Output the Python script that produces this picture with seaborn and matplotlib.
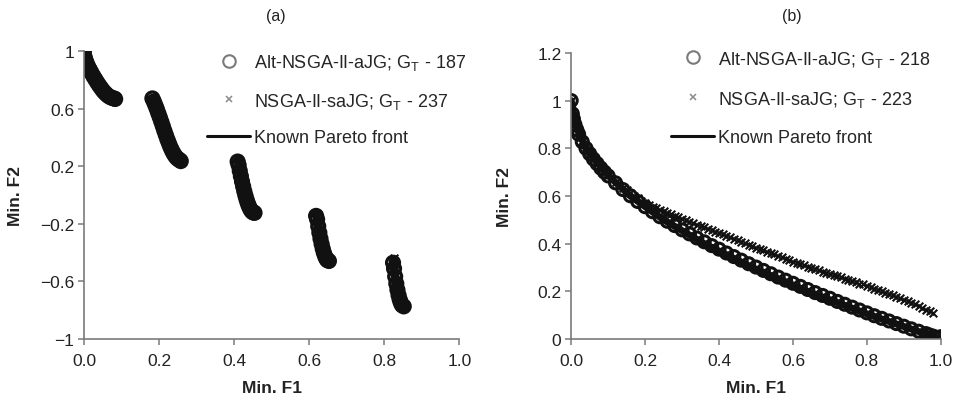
import numpy as np
import pandas as pd
import seaborn as sns
import matplotlib.pyplot as plt
from matplotlib.lines import Line2D

# (a) Alt-NSGA-II-aJG, five disconnected front pieces
alt_a_f1 = [0.0, 0.002, 0.005, 0.008, 0.012, 0.016, 0.02, 0.025, 0.03, 0.035, 0.04, 0.045, 0.05, 0.055, 0.06, 0.065, 0.07, 0.075, 0.08, 0.083,
            0.1822, 0.186, 0.19, 0.194, 0.198, 0.202, 0.206, 0.21, 0.214, 0.218, 0.222, 0.226, 0.23, 0.234, 0.238, 0.242, 0.246, 0.25, 0.254, 0.2578,
            0.4093, 0.412, 0.415, 0.418, 0.421, 0.424, 0.427, 0.43, 0.433, 0.436, 0.439, 0.442, 0.445, 0.448, 0.451, 0.4543,
            0.6183, 0.621, 0.624, 0.627, 0.63, 0.633, 0.636, 0.639, 0.642, 0.645, 0.648, 0.6525,
            0.8233, 0.826, 0.829, 0.832, 0.835, 0.838, 0.841, 0.844, 0.847, 0.8518]
alt_a_f2 = [1.0, 0.955, 0.929, 0.909, 0.886, 0.866, 0.847, 0.824, 0.803, 0.782, 0.762, 0.744, 0.726, 0.711, 0.698, 0.687, 0.679, 0.673, 0.670, 0.666,
            0.670, 0.648, 0.623, 0.596, 0.567, 0.538, 0.508, 0.477, 0.446, 0.416, 0.387, 0.360, 0.334, 0.311, 0.291, 0.274, 0.260, 0.250, 0.244, 0.235,
            0.232, 0.207, 0.167, 0.130, 0.093, 0.059, 0.026, -0.004, -0.031, -0.055, -0.076, -0.093, -0.107, -0.116, -0.122, -0.124,
            -0.145, -0.169, -0.217, -0.262, -0.303, -0.340, -0.373, -0.401, -0.423, -0.440, -0.452, -0.458,
            -0.470, -0.511, -0.566, -0.615, -0.658, -0.695, -0.725, -0.748, -0.764, -0.773]

# (a) NSGA-II-saJG
nsga_a_f1 = [0.0, 0.006, 0.015, 0.028, 0.042, 0.058, 0.072, 0.082,
             0.184, 0.196, 0.208, 0.22, 0.232, 0.244, 0.256,
             0.41, 0.42, 0.43, 0.44, 0.452,
             0.619, 0.628, 0.637, 0.646, 0.652,
             0.826, 0.824, 0.833, 0.842, 0.851]
nsga_a_f2 = [0.99, 0.920, 0.871, 0.811, 0.754, 0.702, 0.678, 0.668,
             0.658, 0.583, 0.492, 0.400, 0.322, 0.267, 0.240,
             0.226, 0.106, -0.005, -0.083, -0.123,
             -0.150, -0.276, -0.380, -0.444, -0.457,
             -0.440, -0.480, -0.628, -0.733, -0.772]

# (a) known Pareto front pieces
front_a_seg = [1] * 5 + [2] * 5 + [3] * 5 + [4] * 5 + [5] * 5
front_a_f1 = [0.0, 0.02, 0.04, 0.06, 0.083,
              0.1822, 0.2, 0.22, 0.24, 0.2578,
              0.4093, 0.42, 0.43, 0.44, 0.4543,
              0.6183, 0.625, 0.63, 0.64, 0.6525,
              0.8233, 0.83, 0.84, 0.845, 0.8518]
front_a_f2 = [1.0, 0.847, 0.762, 0.698, 0.670,
              0.670, 0.553, 0.402, 0.282, 0.242,
              0.242, 0.105, -0.004, -0.082, -0.124,
              -0.123, -0.233, -0.303, -0.409, -0.458,
              -0.458, -0.583, -0.715, -0.753, -0.773]

# (b) Alt-NSGA-II-aJG
alt_b_f1 = [0.0, 0.003, 0.006, 0.01, 0.015, 0.02, 0.03, 0.04, 0.05, 0.06, 0.07, 0.08, 0.09, 0.10,
            0.12, 0.14, 0.16, 0.18, 0.20, 0.22, 0.24, 0.26, 0.28, 0.30, 0.32, 0.34, 0.36, 0.38, 0.40,
            0.42, 0.44, 0.46, 0.48, 0.50, 0.52, 0.54, 0.56, 0.58, 0.60, 0.62, 0.64, 0.66, 0.68, 0.70,
            0.72, 0.74, 0.76, 0.78, 0.80, 0.82, 0.84, 0.86, 0.88, 0.90, 0.92, 0.94, 0.96, 0.97, 0.98, 0.99, 1.0]
alt_b_f2 = [1.0, 0.945, 0.923, 0.900, 0.878, 0.859, 0.827, 0.800, 0.777, 0.755, 0.736, 0.717, 0.700, 0.684,
            0.655, 0.627, 0.601, 0.577, 0.555, 0.534, 0.513, 0.494, 0.476, 0.458, 0.441, 0.424, 0.408, 0.392, 0.377,
            0.361, 0.346, 0.331, 0.316, 0.302, 0.288, 0.274, 0.260, 0.247, 0.234, 0.221, 0.208, 0.195, 0.183, 0.171,
            0.158, 0.146, 0.134, 0.122, 0.110, 0.098, 0.087, 0.076, 0.065, 0.054, 0.043, 0.033, 0.023, 0.017, 0.012, 0.007, 0.010]

# (b) NSGA-II-saJG
nsga_b_f1 = [0.0, 0.005, 0.01, 0.02, 0.03, 0.04, 0.05, 0.06, 0.07, 0.08, 0.09, 0.10, 0.11, 0.12, 0.13, 0.14, 0.15,
             0.16, 0.17, 0.18, 0.19, 0.20, 0.21, 0.22, 0.23, 0.24, 0.25, 0.26, 0.27, 0.28, 0.29, 0.30,
             0.31, 0.32, 0.33, 0.34, 0.35, 0.36, 0.37, 0.38, 0.39, 0.40, 0.41, 0.42, 0.43, 0.44, 0.45,
             0.46, 0.47, 0.48, 0.49, 0.50, 0.51, 0.52, 0.53, 0.54, 0.55, 0.56, 0.57, 0.58, 0.59, 0.60,
             0.61, 0.62, 0.63, 0.64, 0.65, 0.66, 0.67, 0.68, 0.69, 0.70, 0.71, 0.72, 0.73, 0.74, 0.75,
             0.76, 0.77, 0.78, 0.79, 0.80, 0.81, 0.82, 0.83, 0.84, 0.85, 0.86, 0.87, 0.88, 0.89, 0.90,
             0.91, 0.92, 0.93, 0.94, 0.95, 0.96, 0.97, 0.98]
nsga_b_f2 = [1.0, 0.935, 0.905, 0.862, 0.830, 0.805, 0.782, 0.762, 0.744, 0.727, 0.707, 0.690, 0.673, 0.658, 0.647, 0.634, 0.623,
             0.612, 0.601, 0.590, 0.581, 0.570, 0.563, 0.553, 0.548, 0.540, 0.535, 0.527, 0.523, 0.516, 0.511, 0.505,
             0.499, 0.492, 0.488, 0.480, 0.476, 0.468, 0.463, 0.456, 0.451, 0.444, 0.439, 0.432, 0.427, 0.420, 0.415,
             0.408, 0.403, 0.396, 0.391, 0.384, 0.379, 0.372, 0.367, 0.360, 0.355, 0.348, 0.343, 0.336, 0.331, 0.324,
             0.320, 0.314, 0.309, 0.303, 0.299, 0.293, 0.289, 0.283, 0.279, 0.273, 0.269, 0.263, 0.259, 0.253, 0.249,
             0.243, 0.239, 0.233, 0.229, 0.223, 0.219, 0.212, 0.207, 0.200, 0.195, 0.188, 0.183, 0.176, 0.172, 0.165,
             0.159, 0.151, 0.146, 0.138, 0.132, 0.124, 0.118, 0.110]

# (b) known Pareto front
front_b_f1 = [0.0, 0.01, 0.04, 0.09, 0.16, 0.25, 0.36, 0.49, 0.64, 0.81, 1.0]
front_b_f2 = [1.0, 0.9, 0.8, 0.7, 0.6, 0.5, 0.4, 0.3, 0.2, 0.1, 0.0]

x_ticks = [0.0, 0.2, 0.4, 0.6, 0.8, 1.0]
x_labels = ['0.0', '0.2', '0.4', '0.6', '0.8', '1.0']
ya_ticks = [-1, -0.6, -0.2, 0.2, 0.6, 1]
ya_labels = ['\u22121', '\u22120.6', '\u22120.2', '0.2', '0.6', '1']
yb_ticks = [0, 0.2, 0.4, 0.6, 0.8, 1.0, 1.2]
yb_labels = ['0', '0.2', '0.4', '0.6', '0.8', '1', '1.2']
labels_a = ['Alt-NSGA-II-aJG; G$_\\mathregular{T}$ - 187', 'NSGA-II-saJG; G$_\\mathregular{T}$ - 237', 'Known Pareto front']
labels_b = ['Alt-NSGA-II-aJG; G$_\\mathregular{T}$ - 218', 'NSGA-II-saJG; G$_\\mathregular{T}$ - 223', 'Known Pareto front']

sns.set_style('white')
plt.rcParams['font.family'] = ['Liberation Sans', 'DejaVu Sans']
plt.rcParams['mathtext.default'] = 'regular'

fig = plt.figure(figsize=(9.6, 4.02), dpi=100)
ax_a = fig.add_axes([0.0875, 0.154, 0.391, 0.717])
ax_b = fig.add_axes([0.595, 0.154, 0.385, 0.712])

ink = '#111111'
grey = '#7a7a7a'

front_a = pd.DataFrame({'f1': front_a_f1, 'f2': front_a_f2, 'seg': front_a_seg})
sns.lineplot(data=front_a, x='f1', y='f2', units='seg', estimator=None, sort=False,
             color=ink, lw=6, ax=ax_a)
sns.scatterplot(x=alt_a_f1, y=alt_a_f2, marker='o', s=85, facecolors='none',
                edgecolors=ink, linewidth=2.4, ax=ax_a)
sns.scatterplot(x=nsga_a_f1, y=nsga_a_f2, marker='x', s=30, color=ink, linewidth=1.5, ax=ax_a)

sns.lineplot(x=front_b_f1, y=front_b_f2, color=ink, lw=5, sort=False, ax=ax_b)
sns.scatterplot(x=alt_b_f1, y=alt_b_f2, marker='o', s=75, facecolors='none',
                edgecolors=ink, linewidth=2.2, ax=ax_b)
sns.scatterplot(x=nsga_b_f1, y=nsga_b_f2, marker='x', s=30, color=ink, linewidth=1.5, ax=ax_b)

for ax, yt, yl, lim, title, tpos, labs, anchor, lsp in [
        (ax_a, ya_ticks, ya_labels, (-1, 1), '(a)', (0.512, 1.123), labels_a, (0.328, 0.995), 1.02),
        (ax_b, yb_ticks, yb_labels, (0, 1.2), '(b)', (0.597, 1.131), labels_b, (0.27, 1.015), 1.12)]:
    ax.set_xlim(0, 1)
    ax.set_ylim(*lim)
    ax.set_xticks(x_ticks)
    ax.set_xticklabels(x_labels)
    ax.set_yticks(yt)
    ax.set_yticklabels(yl)
    for s in ['top', 'right']:
        ax.spines[s].set_visible(False)
    for s in ['left', 'bottom']:
        ax.spines[s].set_color(grey)
        ax.spines[s].set_linewidth(1.2)
    ax.tick_params(axis='both', direction='out', length=4, width=1.1, color=grey,
                   labelsize=12.5, labelcolor='#222', bottom=True, left=True)
    ax.tick_params(axis='x', pad=6)
    ax.tick_params(axis='y', pad=3)
    ax.set_xlabel('Min. F1', fontsize=12.5, fontweight='bold', color='#222')
    ax.set_ylabel('Min. F2', fontsize=12.5, fontweight='bold', color='#222')
    ax.xaxis.set_label_coords(0.5, -0.142)
    ax.text(tpos[0], tpos[1], title, transform=ax.transAxes, fontsize=11.5,
            color='#222', ha='center', va='center')
    handles = [
        Line2D([], [], ls='none', marker='o', mfc='none', mec=grey, ms=9, mew=1.5),
        Line2D([], [], ls='none', marker='x', mec='#8a8a8a', ms=5, mew=1.1),
        Line2D([], [], color=ink, lw=2.2),
    ]
    ax.legend(handles, labs, loc='upper left', bbox_to_anchor=anchor, frameon=False,
              fontsize=13, handlelength=2.4, handletextpad=0.2, labelspacing=lsp,
              borderpad=0, borderaxespad=0)

ax_a.yaxis.set_label_coords(-0.163, 0.5)
ax_b.yaxis.set_label_coords(-0.16, 0.5)

fig.savefig('out.png', dpi=100)
